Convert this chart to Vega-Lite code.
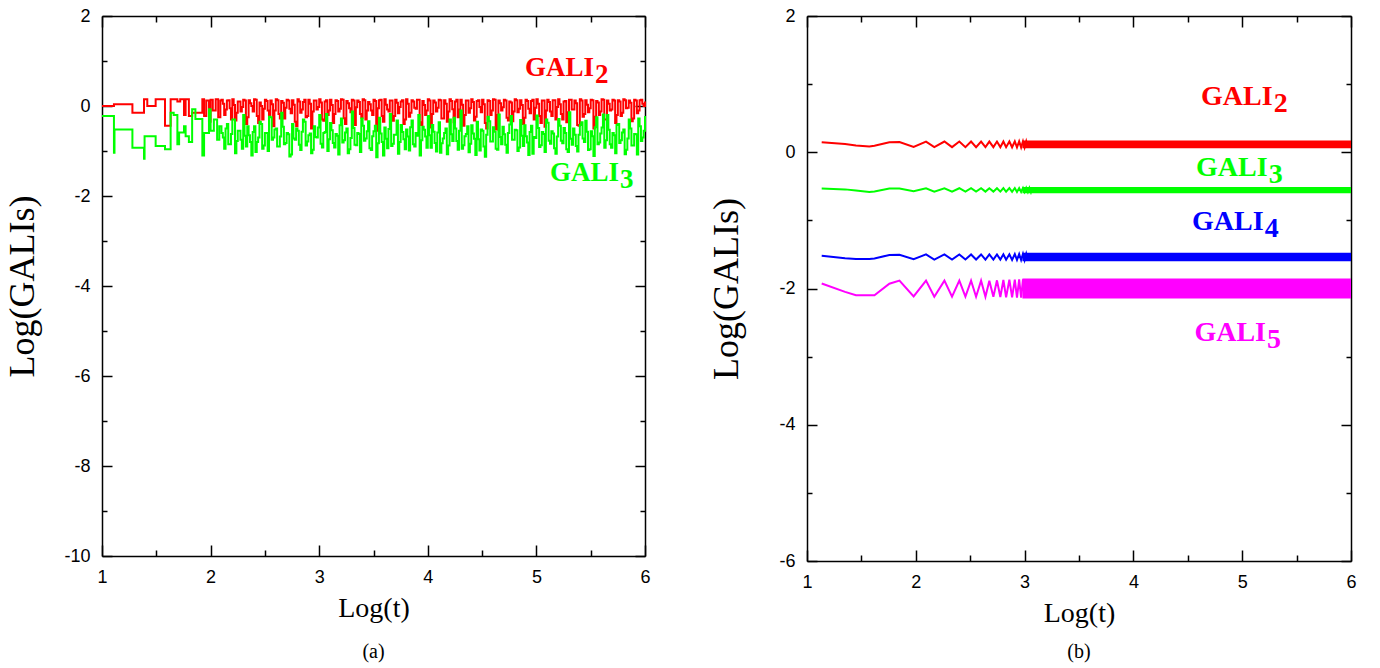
{
  "$schema": "https://vega.github.io/schema/vega-lite/v6.json",
  "padding": {"left": 4, "top": 7, "right": 10, "bottom": 5},
  "spacing": 57,
  "datasets": {
    "a": [
      {"t":1,"r":0},{"t":1.11,"r":0.04},{"t":1.28,"r":-0.15},{"t":1.387,"r":0.15},{"t":1.417,"r":0},{"t":1.494,"r":0.15},{"t":1.58,"r":-0.44},{"t":1.632,"r":0.15},{"t":1.694,"r":0.1},{"t":1.72,"r":0.15},{"t":1.755,"r":-0.2},{"t":1.77,"r":0.15},{"t":1.8,"r":-0.22},{"t":1.83,"r":-0.15},{"t":1.924,"r":0.15},{"t":1.94,"r":-0.22},{"t":1.96,"r":0.12},{"t":1.985,"r":-0.35},{"t":2,"r":0.14},{"t":2.02,"r":-0.1},{"t":2.047,"r":0.15},{"t":2.07,"r":-0.25},{"t":2.09,"r":0.12},
      {"t":1,"g":-0.22},{"t":1.11,"g":-1.04},{"t":1.115,"g":-0.52},{"t":1.28,"g":-0.93},{"t":1.387,"g":-1.17},{"t":1.392,"g":-0.67},{"t":1.494,"g":-0.89},{"t":1.58,"g":-0.96},{"t":1.632,"g":-0.15},{"t":1.66,"g":-0.2},{"t":1.694,"g":-0.85},{"t":1.71,"g":-0.59},{"t":1.755,"g":-0.45},{"t":1.77,"g":-0.67},{"t":1.8,"g":-0.8},{"t":1.83,"g":-0.07},{"t":1.86,"g":-0.29},{"t":1.924,"g":-1.1},{"t":1.94,"g":-0.6},{"t":1.985,"g":-0.07},{"t":2,"g":-0.55},{"t":2.03,"g":-0.3},{"t":2.06,"g":-0.75},{"t":2.08,"g":-0.45},
      {"t":2.1,"r":0.14,"g":-0.6},{"t":2.125,"r":-0.2,"g":-0.95},{"t":2.15,"r":0.12,"g":-0.4},{"t":2.175,"r":-0.05,"g":-0.85},{"t":2.2,"r":0.15,"g":-0.3},{"t":2.225,"r":-0.32,"g":-1.05},{"t":2.25,"r":0.1,"g":-0.55},{"t":2.275,"r":-0.12,"g":-0.75},{"t":2.3,"r":0.14,"g":-0.2},{"t":2.325,"r":-0.4,"g":-0.9},{"t":2.35,"r":0.13,"g":-0.65},{"t":2.375,"r":0,"g":-1.1},{"t":2.4,"r":0.15,"g":-0.45},{"t":2.425,"r":-0.22,"g":-0.8},{"t":2.45,"r":0.08,"g":-0.35},{"t":2.475,"r":-0.3,"g":-0.95},{"t":2.5,"r":0.14,"g":-0.6},{"t":2.525,"r":-0.1,"g":-1.0},{"t":2.55,"r":0.12,"g":-0.25},{"t":2.575,"r":-0.45,"g":-0.7},
      {"t":2.6,"r":0.15,"g":-0.5},{"t":2.625,"r":-0.18,"g":-0.9},{"t":2.65,"r":0.11,"g":-0.15},{"t":2.675,"r":-0.28,"g":-0.85},{"t":2.7,"r":0.14,"g":-0.6},{"t":2.725,"r":-0.06,"g":-1.12},{"t":2.75,"r":0.13,"g":-0.4},{"t":2.775,"r":-0.35,"g":-0.75},{"t":2.8,"r":0.15,"g":-0.55},{"t":2.825,"r":-0.15,"g":-0.98},{"t":2.85,"r":0.09,"g":-0.3},{"t":2.875,"r":-0.25,"g":-0.88},{"t":2.9,"r":0.14,"g":-0.65},{"t":2.925,"r":-0.5,"g":-1.05},{"t":2.95,"r":0.12,"g":-0.45},{"t":2.975,"r":-0.08,"g":-0.7},{"t":3,"r":0.15,"g":-0.2},{"t":3.025,"r":-0.3,"g":-0.92},{"t":3.05,"r":0.1,"g":-0.58},{"t":3.075,"r":-0.2,"g":-1.0},
      {"t":3.1,"r":0.14,"g":-0.38},{"t":3.125,"r":-0.38,"g":-0.82},{"t":3.15,"r":0.13,"g":-0.62},{"t":3.175,"r":-0.12,"g":-1.08},{"t":3.2,"r":0.15,"g":-0.28},{"t":3.225,"r":-0.27,"g":-0.76},{"t":3.25,"r":0.11,"g":-0.5},{"t":3.275,"r":-0.05,"g":-0.96},{"t":3.3,"r":0.14,"g":-0.12},{"t":3.325,"r":-0.42,"g":-0.86},{"t":3.35,"r":0.12,"g":-0.6},{"t":3.375,"r":-0.18,"g":-1.02},{"t":3.4,"r":0.15,"g":-0.44},{"t":3.425,"r":-0.3,"g":-0.72},{"t":3.45,"r":0.09,"g":-0.34},{"t":3.475,"r":-0.1,"g":-0.98},{"t":3.5,"r":0.14,"g":-0.56},{"t":3.525,"r":-0.55,"g":-1.14},{"t":3.55,"r":0.13,"g":-0.26},{"t":3.575,"r":-0.22,"g":-0.8},
      {"t":3.6,"r":0.15,"g":-0.48},{"t":3.625,"r":-0.08,"g":-0.94},{"t":3.65,"r":0.12,"g":-0.18},{"t":3.675,"r":-0.33,"g":-0.84},{"t":3.7,"r":0.14,"g":-0.64},{"t":3.725,"r":-0.16,"g":-1.06},{"t":3.75,"r":0.1,"g":-0.42},{"t":3.775,"r":-0.4,"g":-0.74},{"t":3.8,"r":0.15,"g":-0.52},{"t":3.825,"r":-0.24,"g":-0.99},{"t":3.85,"r":0.13,"g":-0.32},{"t":3.875,"r":-0.04,"g":-0.9},{"t":3.9,"r":0.14,"g":-0.66},{"t":3.925,"r":-0.36,"g":-1.1},{"t":3.95,"r":0.11,"g":-0.46},{"t":3.975,"r":-0.2,"g":-0.68},{"t":4,"r":0.15,"g":-0.22},{"t":4.025,"r":-0.48,"g":-0.93},{"t":4.05,"r":0.12,"g":-0.57},{"t":4.075,"r":-0.12,"g":-1.01},
      {"t":4.1,"r":0.14,"g":-0.36},{"t":4.125,"r":-0.28,"g":-0.83},{"t":4.15,"r":0.13,"g":-0.6},{"t":4.175,"r":-0.35,"g":-1.07},{"t":4.2,"r":0.15,"g":-0.3},{"t":4.225,"r":-0.07,"g":-0.78},{"t":4.25,"r":0.1,"g":-0.5},{"t":4.275,"r":-0.25,"g":-0.97},{"t":4.3,"r":0.14,"g":-0.1},{"t":4.325,"r":-0.44,"g":-0.87},{"t":4.35,"r":0.12,"g":-0.62},{"t":4.375,"r":-0.15,"g":-1.03},{"t":4.4,"r":0.15,"g":-0.43},{"t":4.425,"r":-0.32,"g":-0.73},{"t":4.45,"r":0.11,"g":-0.35},{"t":4.475,"r":-0.02,"g":-0.99},{"t":4.5,"r":0.14,"g":-0.55},{"t":4.525,"r":-0.38,"g":-1.13},{"t":4.55,"r":0.13,"g":-0.24},{"t":4.575,"r":-0.2,"g":-0.79},
      {"t":4.6,"r":0.15,"g":-0.47},{"t":4.625,"r":-0.52,"g":-0.95},{"t":4.65,"r":0.12,"g":-0.19},{"t":4.675,"r":-0.1,"g":-0.85},{"t":4.7,"r":0.14,"g":-0.63},{"t":4.725,"r":-0.26,"g":-1.04},{"t":4.75,"r":0.1,"g":-0.41},{"t":4.775,"r":-0.34,"g":-0.75},{"t":4.8,"r":0.15,"g":-0.53},{"t":4.825,"r":-0.14,"g":-1.0},{"t":4.85,"r":0.13,"g":-0.31},{"t":4.875,"r":-0.4,"g":-0.89},{"t":4.9,"r":0.14,"g":-0.67},{"t":4.925,"r":-0.06,"g":-1.09},{"t":4.95,"r":0.11,"g":-0.44},{"t":4.975,"r":-0.3,"g":-0.69},{"t":5,"r":0.15,"g":-0.21},{"t":5.025,"r":-0.22,"g":-0.91},{"t":5.05,"r":0.12,"g":-0.58},{"t":5.075,"r":-0.46,"g":-1.02},
      {"t":5.1,"r":0.14,"g":-0.37},{"t":5.125,"r":-0.12,"g":-0.84},{"t":5.15,"r":0.13,"g":-0.61},{"t":5.175,"r":-0.3,"g":-1.06},{"t":5.2,"r":0.15,"g":-0.29},{"t":5.225,"r":-0.18,"g":-0.77},{"t":5.25,"r":0.1,"g":-0.49},{"t":5.275,"r":-0.36,"g":-0.96},{"t":5.3,"r":0.14,"g":-0.14},{"t":5.325,"r":-0.08,"g":-0.86},{"t":5.35,"r":0.12,"g":-0.64},{"t":5.375,"r":-0.42,"g":-1.01},{"t":5.4,"r":0.15,"g":-0.42},{"t":5.425,"r":-0.24,"g":-0.72},{"t":5.45,"r":0.13,"g":-0.33},{"t":5.475,"r":-0.14,"g":-0.98},{"t":5.5,"r":0.14,"g":-0.56},{"t":5.525,"r":-0.5,"g":-1.11},{"t":5.55,"r":0.11,"g":-0.25},{"t":5.575,"r":-0.2,"g":-0.81},
      {"t":5.6,"r":0.15,"g":-0.48},{"t":5.625,"r":-0.3,"g":-0.93},{"t":5.65,"r":0.12,"g":-0.2},{"t":5.675,"r":-0.1,"g":-0.85},{"t":5.7,"r":0.14,"g":-0.6},{"t":5.725,"r":-0.38,"g":-1.05},{"t":5.75,"r":0.13,"g":-0.4},{"t":5.775,"r":-0.22,"g":-0.76},{"t":5.8,"r":0.15,"g":-0.52},{"t":5.825,"r":-0.05,"g":-0.97},{"t":5.85,"r":0.12,"g":-0.3},{"t":5.875,"r":-0.34,"g":-0.88},{"t":5.9,"r":0.14,"g":-0.62},{"t":5.925,"r":-0.16,"g":-1.08},{"t":5.95,"r":0.13,"g":-0.45},{"t":5.975,"r":0.05,"g":-0.7},{"t":6,"r":0.1,"g":-0.22},
      {"t":2.1125,"r":0.05,"g":-0.7},{"t":2.1375,"r":-0.08,"g":-0.5},{"t":2.1625,"r":0.13,"g":-0.85},{"t":2.1875,"r":-0.3,"g":-0.62},{"t":2.2125,"r":0.02,"g":-0.3},{"t":2.2375,"r":-0.15,"g":-0.78},{"t":2.2625,"r":0.1,"g":-0.55},{"t":2.2875,"r":-0.02,"g":-0.95},{"t":2.3125,"r":0.12,"g":-0.66},{"t":2.3375,"r":-0.25,"g":-0.45},
      {"t":2.3625,"r":0.06,"g":-0.8},{"t":2.3875,"r":-0.12,"g":-0.58},{"t":2.4125,"r":0.14,"g":-1.02},{"t":2.4375,"r":-0.38,"g":-0.7},{"t":2.4625,"r":0,"g":-0.4},{"t":2.4875,"r":-0.06,"g":-0.88},{"t":2.5125,"r":0.11,"g":-0.6},{"t":2.5375,"r":-0.2,"g":-0.24},{"t":2.5625,"r":0.04,"g":-0.75},{"t":2.5875,"r":-0.1,"g":-0.52},
      {"t":2.6125,"r":0.13,"g":-0.9},{"t":2.6375,"r":-0.28,"g":-0.68},{"t":2.6625,"r":0.07,"g":-0.46},{"t":2.6875,"r":-0.04,"g":-0.82},{"t":2.7125,"r":0.12,"g":-0.63},{"t":2.7375,"r":-0.16,"g":-1.08},{"t":2.7625,"r":0.03,"g":-0.72},{"t":2.7875,"r":-0.45,"g":-0.5},{"t":2.8125,"r":0.1,"g":-0.86},{"t":2.8375,"r":-0.08,"g":-0.57},
      {"t":2.8625,"r":0.14,"g":-0.35},{"t":2.8875,"r":-0.22,"g":-0.79},{"t":2.9125,"r":0.05,"g":-0.61},{"t":2.9375,"r":-0.12,"g":-0.97},{"t":2.9625,"r":0.12,"g":-0.69},{"t":2.9875,"r":-0.02,"g":-0.48},{"t":3.0125,"r":0.08,"g":-0.84},{"t":3.0375,"r":-0.33,"g":-0.6},{"t":3.0625,"r":0.13,"g":-0.18},{"t":3.0875,"r":-0.1,"g":-0.74},
      {"t":3.1125,"r":0.02,"g":-0.54},{"t":3.1375,"r":-0.18,"g":-0.92},{"t":3.1625,"r":0.11,"g":-0.66},{"t":3.1875,"r":-0.06,"g":-0.43},{"t":3.2125,"r":0.14,"g":-0.81},{"t":3.2375,"r":-0.4,"g":-0.59},{"t":3.2625,"r":0.06,"g":-1.05},{"t":3.2875,"r":-0.14,"g":-0.71},{"t":3.3125,"r":0.12,"g":-0.49},{"t":3.3375,"r":-0.03,"g":-0.87},
      {"t":3.3625,"r":0.09,"g":-0.62},{"t":3.3875,"r":-0.26,"g":-0.28},{"t":3.4125,"r":0.13,"g":-0.77},{"t":3.4375,"r":-0.1,"g":-0.56},{"t":3.4625,"r":0.04,"g":-0.94},{"t":3.4875,"r":-0.2,"g":-0.67},{"t":3.5125,"r":0.11,"g":-0.44},{"t":3.5375,"r":-0.05,"g":-0.83},{"t":3.5625,"r":0.14,"g":-0.61},{"t":3.5875,"r":-0.35,"g":-1.1},
      {"t":3.6125,"r":0.03,"g":-0.73},{"t":3.6375,"r":-0.12,"g":-0.51},{"t":3.6625,"r":0.12,"g":-0.89},{"t":3.6875,"r":-0.22,"g":-0.64},{"t":3.7125,"r":0.07,"g":-0.32},{"t":3.7375,"r":-0.02,"g":-0.8},{"t":3.7625,"r":0.13,"g":-0.58},{"t":3.7875,"r":-0.3,"g":-0.96},{"t":3.8125,"r":0.05,"g":-0.68},{"t":3.8375,"r":-0.15,"g":-0.47},
      {"t":3.8625,"r":0.1,"g":-0.85},{"t":3.8875,"r":-0.06,"g":-0.6},{"t":3.9125,"r":0.14,"g":-0.2},{"t":3.9375,"r":-0.42,"g":-0.76},{"t":3.9625,"r":0.02,"g":-0.53},{"t":3.9875,"r":-0.1,"g":-0.93},{"t":4.0125,"r":0.12,"g":-0.65},{"t":4.0375,"r":-0.18,"g":-0.42},{"t":4.0625,"r":0.08,"g":-0.82},{"t":4.0875,"r":-0.04,"g":-0.59},
      {"t":4.1125,"r":0.13,"g":-1.04},{"t":4.1375,"r":-0.28,"g":-0.72},{"t":4.1625,"r":0.05,"g":-0.5},{"t":4.1875,"r":-0.12,"g":-0.88},{"t":4.2125,"r":0.11,"g":-0.63},{"t":4.2375,"r":-0.36,"g":-0.26},{"t":4.2625,"r":0.14,"g":-0.78},{"t":4.2875,"r":-0.08,"g":-0.55},{"t":4.3125,"r":0.03,"g":-0.95},{"t":4.3375,"r":-0.2,"g":-0.67},
      {"t":4.3625,"r":0.12,"g":-0.45},{"t":4.3875,"r":-0.05,"g":-0.84},{"t":4.4125,"r":0.09,"g":-0.61},{"t":4.4375,"r":-0.24,"g":-1.09},{"t":4.4625,"r":0.13,"g":-0.74},{"t":4.4875,"r":-0.14,"g":-0.52},{"t":4.5125,"r":0.04,"g":-0.9},{"t":4.5375,"r":-0.5,"g":-0.64},{"t":4.5625,"r":0.11,"g":-0.34},{"t":4.5875,"r":-0.1,"g":-0.79},
      {"t":4.6125,"r":0.14,"g":-0.57},{"t":4.6375,"r":-0.2,"g":-0.97},{"t":4.6625,"r":0.06,"g":-0.69},{"t":4.6875,"r":-0.03,"g":-0.46},{"t":4.7125,"r":0.12,"g":-0.86},{"t":4.7375,"r":-0.32,"g":-0.6},{"t":4.7625,"r":0.08,"g":-0.22},{"t":4.7875,"r":-0.12,"g":-0.75},{"t":4.8125,"r":0.13,"g":-0.54},{"t":4.8375,"r":-0.06,"g":-0.92},
      {"t":4.8625,"r":0.02,"g":-0.66},{"t":4.8875,"r":-0.26,"g":-0.43},{"t":4.9125,"r":0.11,"g":-0.81},{"t":4.9375,"r":-0.16,"g":-0.58},{"t":4.9625,"r":0.14,"g":-1.06},{"t":4.9875,"r":-0.04,"g":-0.71},{"t":5.0125,"r":0.05,"g":-0.49},{"t":5.0375,"r":-0.38,"g":-0.87},{"t":5.0625,"r":0.12,"g":-0.62},{"t":5.0875,"r":-0.1,"g":-0.3},
      {"t":5.1125,"r":0.09,"g":-0.77},{"t":5.1375,"r":-0.22,"g":-0.56},{"t":5.1625,"r":0.13,"g":-0.94},{"t":5.1875,"r":-0.02,"g":-0.68},{"t":5.2125,"r":0.04,"g":-0.44},{"t":5.2375,"r":-0.3,"g":-0.83},{"t":5.2625,"r":0.11,"g":-0.6},{"t":5.2875,"r":-0.14,"g":-1.02},{"t":5.3125,"r":0.14,"g":-0.73},{"t":5.3375,"r":-0.08,"g":-0.5},
      {"t":5.3625,"r":0.06,"g":-0.89},{"t":5.3875,"r":-0.44,"g":-0.64},{"t":5.4125,"r":0.12,"g":-0.36},{"t":5.4375,"r":-0.18,"g":-0.8},{"t":5.4625,"r":0.03,"g":-0.57},{"t":5.4875,"r":-0.05,"g":-0.96},{"t":5.5125,"r":0.13,"g":-0.67},{"t":5.5375,"r":-0.24,"g":-0.47},{"t":5.5625,"r":0.08,"g":-0.85},{"t":5.5875,"r":-0.12,"g":-0.61},
      {"t":5.6125,"r":0.14,"g":-0.19},{"t":5.6375,"r":-0.3,"g":-0.76},{"t":5.6625,"r":0.05,"g":-0.53},{"t":5.6875,"r":-0.08,"g":-0.93},{"t":5.7125,"r":0.12,"g":-0.65},{"t":5.7375,"r":-0.2,"g":-0.42},{"t":5.7625,"r":0.1,"g":-0.82},{"t":5.7875,"r":-0.15,"g":-0.59},{"t":5.8125,"r":0.13,"g":-1.07},{"t":5.8375,"r":-0.04,"g":-0.72},
      {"t":5.8625,"r":0.07,"g":-0.5},{"t":5.8875,"r":-0.28,"g":-0.88},{"t":5.9125,"r":0.12,"g":-0.63},{"t":5.9375,"r":-0.1,"g":-0.28},{"t":5.9625,"r":0.14,"g":-0.78},{"t":5.9875,"r":0,"g":-0.55}
    ],
    "labA": [
      {"s":"GALI2","t":5.53,"v":0.667,"lab":"GALI","n":"2"},
      {"s":"GALI3","t":5.76,"v":-1.667,"lab":"GALI","n":"3"}
    ],
    "bL": [
      {"t":1.135,"GALI2":0.148,"GALI3":-0.533,"GALI4":-1.52,"GALI5":-1.926},
      {"t":1.35,"GALI2":0.12,"GALI3":-0.545,"GALI4":-1.555,"GALI5":-2.05},
      {"t":1.45,"GALI2":0.1,"GALI3":-0.56,"GALI4":-1.566,"GALI5":-2.1},
      {"t":1.573,"GALI2":0.083,"GALI3":-0.583,"GALI4":-1.566,"GALI5":-2.1},
      {"t":1.62,"GALI2":0.095,"GALI3":-0.575,"GALI4":-1.56,"GALI5":-2.1},
      {"t":1.757,"GALI2":0.148,"GALI3":-0.533,"GALI4":-1.507,"GALI5":-1.93},
      {"t":1.85,"GALI2":0.15,"GALI3":-0.533,"GALI4":-1.505,"GALI5":-1.885},
      {"t":1.98,"GALI2":0.078,"GALI3":-0.572,"GALI4":-1.57,"GALI5":-2.115},
      {"t":2.094,"GALI2":0.157,"GALI3":-0.528,"GALI4":-1.5,"GALI5":-1.885},
      {"t":2.17,"GALI2":0.075,"GALI3":-0.578,"GALI4":-1.575,"GALI5":-2.12},
      {"t":2.263,"GALI2":0.157,"GALI3":-0.528,"GALI4":-1.5,"GALI5":-1.885},
      {"t":2.333,"GALI2":0.075,"GALI3":-0.578,"GALI4":-1.575,"GALI5":-2.12},
      {"t":2.4,"GALI2":0.157,"GALI3":-0.528,"GALI4":-1.5,"GALI5":-1.885},
      {"t":2.456,"GALI2":0.075,"GALI3":-0.578,"GALI4":-1.575,"GALI5":-2.12},
      {"t":2.508,"GALI2":0.157,"GALI3":-0.528,"GALI4":-1.5,"GALI5":-1.885},
      {"t":2.554,"GALI2":0.075,"GALI3":-0.578,"GALI4":-1.575,"GALI5":-2.12},
      {"t":2.6,"GALI2":0.157,"GALI3":-0.528,"GALI4":-1.5,"GALI5":-1.885},
      {"t":2.64,"GALI2":0.075,"GALI3":-0.578,"GALI4":-1.575,"GALI5":-2.12},
      {"t":2.676,"GALI2":0.157,"GALI3":-0.528,"GALI4":-1.5,"GALI5":-1.885},
      {"t":2.713,"GALI2":0.075,"GALI3":-0.578,"GALI4":-1.575,"GALI5":-2.12},
      {"t":2.746,"GALI2":0.157,"GALI3":-0.528,"GALI4":-1.5,"GALI5":-1.88},
      {"t":2.777,"GALI2":0.075,"GALI3":-0.578,"GALI4":-1.575,"GALI5":-2.125},
      {"t":2.805,"GALI2":0.158,"GALI3":-0.527,"GALI4":-1.498,"GALI5":-1.875},
      {"t":2.83,"GALI2":0.074,"GALI3":-0.58,"GALI4":-1.578,"GALI5":-2.13},
      {"t":2.86,"GALI2":0.158,"GALI3":-0.527,"GALI4":-1.498,"GALI5":-1.87},
      {"t":2.885,"GALI2":0.073,"GALI3":-0.58,"GALI4":-1.58,"GALI5":-2.13},
      {"t":2.91,"GALI2":0.16,"GALI3":-0.525,"GALI4":-1.495,"GALI5":-1.87},
      {"t":2.93,"GALI2":0.072,"GALI3":-0.582,"GALI4":-1.58,"GALI5":-2.135},
      {"t":2.95,"GALI2":0.16,"GALI3":-0.525,"GALI4":-1.495,"GALI5":-1.865},
      {"t":2.968,"GALI2":0.072,"GALI3":-0.582,"GALI4":-1.582,"GALI5":-2.135},
      {"t":2.985,"GALI2":0.16,"GALI3":-0.524,"GALI4":-1.493,"GALI5":-1.865},
      {"t":3,"GALI2":0.071,"GALI3":-0.583,"GALI4":-1.582,"GALI5":-2.14},
      {"t":3.015,"GALI2":0.161,"GALI3":-0.524,"GALI4":-1.492,"GALI5":-1.86},
      {"t":3.03,"GALI2":0.071,"GALI3":-0.584,"GALI4":-1.584,"GALI5":-2.14},
      {"t":3.044,"GALI2":0.161,"GALI3":-0.523,"GALI4":-1.49,"GALI5":-1.86},
      {"t":3.058,"GALI2":0.07,"GALI3":-0.585,"GALI4":-1.585,"GALI5":-2.14},
      {"t":3.07,"GALI2":0.162,"GALI3":-0.523,"GALI4":-1.49,"GALI5":-1.86}
    ],
    "bB": [
      {"s":"GALI2","t":2.98,"lo":0.06,"hi":0.172},{"s":"GALI2","t":6,"lo":0.06,"hi":0.172},
      {"s":"GALI3","t":2.98,"lo":-0.6,"hi":-0.51},{"s":"GALI3","t":6,"lo":-0.6,"hi":-0.51},
      {"s":"GALI4","t":2.98,"lo":-1.6,"hi":-1.475},{"s":"GALI4","t":6,"lo":-1.6,"hi":-1.475},
      {"s":"GALI5","t":2.98,"lo":-2.145,"hi":-1.855},{"s":"GALI5","t":6,"lo":-2.145,"hi":-1.855}
    ],
    "labB": [
      {"s":"GALI2","t":5.28,"v":0.69,"lab":"GALI","n":"2"},
      {"s":"GALI3","t":5.234,"v":-0.347,"lab":"GALI","n":"3"},
      {"s":"GALI4","t":5.197,"v":-1.136,"lab":"GALI","n":"4"},
      {"s":"GALI5","t":5.219,"v":-2.766,"lab":"GALI","n":"5"}
    ]
  },
  "hconcat": [
    {
      "width": 543,
      "height": 540,
      "title": {"text": "(a)", "orient": "bottom", "offset": 20},
      "layer": [
        {
          "data": {"name": "a"},
          "transform": [{"filter": "isValid(datum.r)"}],
          "mark": {"type": "line", "interpolate": "step-after", "color": "#ff0000", "strokeWidth": 2},
          "encoding": {
            "x": {"field": "t", "type": "quantitative", "scale": {"domain": [1, 6], "nice": false, "zero": false},
              "axis": {"orient": "bottom", "values": [1,1.5,2,2.5,3,3.5,4,4.5,5,5.5,6], "labelExpr": "datum.value % 1 === 0 ? '' + datum.value : ''", "tickSize": {"condition": {"test": "datum.value % 1 === 0", "value": -11}, "value": -6}, "labelPadding": 23, "title": "Log(t)", "titleFontSize": 28, "titlePadding": 3}},
            "y": {"field": "r", "type": "quantitative", "scale": {"domain": [-10, 2], "nice": false, "zero": false},
              "axis": {"orient": "left", "values": [-10,-9,-8,-7,-6,-5,-4,-3,-2,-1,0,1,2], "labelExpr": "datum.value % 2 === 0 ? '' + datum.value : ''", "tickSize": {"condition": {"test": "datum.value % 2 === 0", "value": -10}, "value": -5}, "labelPadding": 22, "title": "Log(GALIs)", "titleFontSize": 36, "titlePadding": 22}}
          }
        },
        {
          "data": {"name": "a"},
          "transform": [{"filter": "isValid(datum.g)"}],
          "mark": {"type": "line", "interpolate": "step-after", "color": "#00ff00", "strokeWidth": 2},
          "encoding": {
            "x": {"field": "t", "type": "quantitative", "scale": {"domain": [1, 6], "nice": false, "zero": false},
              "axis": {"orient": "top", "values": [1,1.5,2,2.5,3,3.5,4,4.5,5,5.5,6], "labels": false, "tickSize": {"condition": {"test": "datum.value % 1 === 0", "value": -11}, "value": -6}, "title": null}},
            "y": {"field": "g", "type": "quantitative", "scale": {"domain": [-10, 2], "nice": false, "zero": false},
              "axis": {"orient": "right", "values": [-10,-9,-8,-7,-6,-5,-4,-3,-2,-1,0,1,2], "labels": false, "tickSize": {"condition": {"test": "datum.value % 2 === 0", "value": -10}, "value": -5}, "title": null}}
          }
        },
        {
          "data": {"name": "labA"},
          "mark": {"type": "text", "align": "right", "baseline": "alphabetic", "font": "Liberation Serif", "fontWeight": "bold", "fontSize": 27},
          "encoding": {
            "x": {"field": "t", "type": "quantitative", "axis": null},
            "y": {"field": "v", "type": "quantitative", "axis": null},
            "text": {"field": "lab"},
            "color": {"field": "s", "type": "nominal", "scale": {"domain": ["GALI2","GALI3","GALI4","GALI5"], "range": ["#ff0000","#00ff00","#0000ff","#ff00ff"]}, "legend": null}
          }
        },
        {
          "data": {"name": "labA"},
          "mark": {"type": "text", "align": "left", "baseline": "alphabetic", "font": "Liberation Serif", "fontWeight": "bold", "fontSize": 27, "dx": 1, "dy": 7},
          "encoding": {
            "x": {"field": "t", "type": "quantitative", "axis": null},
            "y": {"field": "v", "type": "quantitative", "axis": null},
            "text": {"field": "n"},
            "color": {"field": "s", "type": "nominal", "scale": {"domain": ["GALI2","GALI3","GALI4","GALI5"], "range": ["#ff0000","#00ff00","#0000ff","#ff00ff"]}, "legend": null}
          }
        }
      ]
    },
    {
      "width": 544,
      "height": 545,
      "title": {"text": "(b)", "orient": "bottom", "offset": 15},
      "layer": [
        {
          "data": {"name": "bL"},
          "transform": [{"fold": ["GALI2","GALI3","GALI4","GALI5"], "as": ["s", "v"]}],
          "mark": {"type": "line", "strokeWidth": 2},
          "encoding": {
            "x": {"field": "t", "type": "quantitative", "scale": {"domain": [1, 6], "nice": false, "zero": false},
              "axis": {"orient": "bottom", "values": [1,1.5,2,2.5,3,3.5,4,4.5,5,5.5,6], "labelExpr": "datum.value % 1 === 0 ? '' + datum.value : ''", "tickSize": {"condition": {"test": "datum.value % 1 === 0", "value": -11}, "value": -6}, "labelPadding": 23, "title": "Log(t)", "titleFontSize": 28, "titlePadding": 3}},
            "y": {"field": "v", "type": "quantitative", "scale": {"domain": [-6, 2], "nice": false, "zero": false},
              "axis": {"orient": "left", "values": [-6,-5,-4,-3,-2,-1,0,1,2], "labelExpr": "datum.value % 2 === 0 ? '' + datum.value : ''", "tickSize": {"condition": {"test": "datum.value % 2 === 0", "value": -10}, "value": -5}, "labelPadding": 22, "title": "Log(GALIs)", "titleFontSize": 36, "titlePadding": 33}},
            "color": {"field": "s", "type": "nominal", "scale": {"domain": ["GALI2","GALI3","GALI4","GALI5"], "range": ["#ff0000","#00ff00","#0000ff","#ff00ff"]}, "legend": null}
          }
        },
        {
          "data": {"name": "bB"},
          "mark": {"type": "area", "opacity": 1},
          "encoding": {
            "x": {"field": "t", "type": "quantitative", "scale": {"domain": [1, 6], "nice": false, "zero": false},
              "axis": {"orient": "top", "values": [1,1.5,2,2.5,3,3.5,4,4.5,5,5.5,6], "labels": false, "tickSize": {"condition": {"test": "datum.value % 1 === 0", "value": -11}, "value": -6}, "title": null}},
            "y": {"field": "lo", "type": "quantitative", "stack": null, "scale": {"domain": [-6, 2], "nice": false, "zero": false},
              "axis": {"orient": "right", "values": [-6,-5,-4,-3,-2,-1,0,1,2], "labels": false, "tickSize": {"condition": {"test": "datum.value % 2 === 0", "value": -10}, "value": -5}, "title": null}},
            "y2": {"field": "hi"},
            "color": {"field": "s", "type": "nominal", "scale": {"domain": ["GALI2","GALI3","GALI4","GALI5"], "range": ["#ff0000","#00ff00","#0000ff","#ff00ff"]}, "legend": null}
          }
        },
        {
          "data": {"name": "labB"},
          "mark": {"type": "text", "align": "right", "baseline": "alphabetic", "font": "Liberation Serif", "fontWeight": "bold", "fontSize": 28},
          "encoding": {
            "x": {"field": "t", "type": "quantitative", "axis": null},
            "y": {"field": "v", "type": "quantitative", "axis": null},
            "text": {"field": "lab"},
            "color": {"field": "s", "type": "nominal", "scale": {"domain": ["GALI2","GALI3","GALI4","GALI5"], "range": ["#ff0000","#00ff00","#0000ff","#ff00ff"]}, "legend": null}
          }
        },
        {
          "data": {"name": "labB"},
          "mark": {"type": "text", "align": "left", "baseline": "alphabetic", "font": "Liberation Serif", "fontWeight": "bold", "fontSize": 28, "dx": 1, "dy": 7},
          "encoding": {
            "x": {"field": "t", "type": "quantitative", "axis": null},
            "y": {"field": "v", "type": "quantitative", "axis": null},
            "text": {"field": "n"},
            "color": {"field": "s", "type": "nominal", "scale": {"domain": ["GALI2","GALI3","GALI4","GALI5"], "range": ["#ff0000","#00ff00","#0000ff","#ff00ff"]}, "legend": null}
          }
        }
      ]
    }
  ],
  "config": {
    "background": "white",
    "view": {"stroke": null},
    "axis": {"domainColor": "black", "domainWidth": 1.5, "tickColor": "black", "tickWidth": 1.5, "labelFont": "Liberation Sans", "labelFontSize": 18, "labelColor": "black", "titleFont": "Liberation Serif", "titleFontWeight": "normal", "titleColor": "black", "grid": false, "labelOverlap": false, "labelFlush": false},
    "title": {"font": "Liberation Serif", "fontSize": 20, "fontWeight": "normal", "color": "black"}
  }
}
